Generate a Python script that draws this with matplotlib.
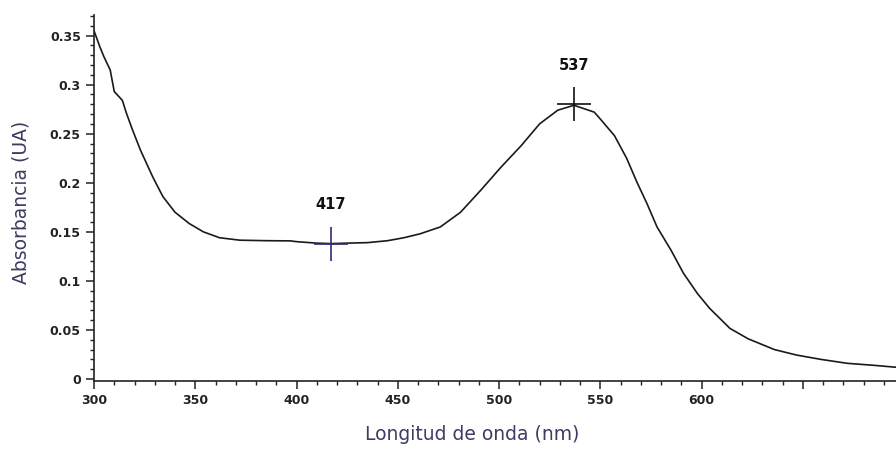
import matplotlib.pyplot as plt
from matplotlib.ticker import MultipleLocator

# spectrum
wavelength = [300, 303, 305, 308, 310, 314, 316, 319, 323, 329, 334, 340, 347, 354,
              362, 372, 385, 397, 400, 410, 417, 425, 435, 445, 453, 461, 471, 481,
              491, 501, 511, 520, 529, 537, 547, 550, 557, 563, 568, 573, 578, 585,
              591, 598, 604, 614, 623, 636, 647, 659, 672, 685, 696]
absorbance = [0.355, 0.338, 0.328, 0.315, 0.293, 0.284, 0.271, 0.254, 0.233, 0.206,
              0.186, 0.170, 0.1585, 0.150, 0.144, 0.1415, 0.141, 0.1408, 0.1400, 0.1385,
              0.138, 0.1385, 0.139, 0.141, 0.144, 0.148, 0.155, 0.170, 0.1925, 0.216,
              0.238, 0.260, 0.274, 0.279, 0.272, 0.265, 0.248, 0.225, 0.201, 0.179,
              0.155, 0.131, 0.108, 0.087, 0.072, 0.0516, 0.041, 0.030, 0.0244, 0.020,
              0.016, 0.014, 0.012]

peaks_x = [417, 537]
peaks_y = [0.138, 0.280]
peak_colors = ['#2b2b7a', '#111111']

x_ticks = [300, 350, 400, 450, 500, 550, 600, 650]
x_labels = ['300', '350', '400', '450', '500', '550', '600', '']
y_ticks = [0, 0.05, 0.1, 0.15, 0.2, 0.25, 0.3, 0.35]
y_labels = ['0', '0.05', '0.1', '0.15', '0.2', '0.25', '0.3', '0.35']

label_color = '#3c3c64'

fig = plt.figure(figsize=(8.96, 4.49), dpi=100)
ax = fig.add_axes([94/896, 68/449, 802/896, 366/449])

ax.plot(wavelength, absorbance, color='#1a1a1a', lw=1.2)

for px, py, c in zip(peaks_x, peaks_y, peak_colors):
    ax.plot([px], [py], marker='+', markersize=25, mew=1.2, color=c, ls='none')
    ax.annotate(str(px), (px, py), xytext=(0, 28), textcoords='offset points',
                ha='center', va='center', fontsize=10.5, fontweight='bold',
                color='#111111')

ax.set_xlim(300, 696)
ax.set_ylim(-0.002, 0.371)

ax.set_xticks(x_ticks, x_labels)
ax.set_yticks(y_ticks, y_labels)
ax.xaxis.set_minor_locator(MultipleLocator(10))
ax.yaxis.set_minor_locator(MultipleLocator(0.01))

ax.tick_params(which='major', length=6, width=1.1, direction='out', pad=3.5,
               labelsize=9, colors='#222222')
ax.tick_params(which='minor', length=3, width=1.0, direction='out', colors='#222222')
for lab in ax.get_xticklabels() + ax.get_yticklabels():
    lab.set_fontweight('bold')

for s in ['top', 'right']:
    ax.spines[s].set_visible(False)
for s in ['left', 'bottom']:
    ax.spines[s].set_linewidth(1.2)
    ax.spines[s].set_color('#222222')

ax.set_xlabel('Longitud de onda (nm)', fontsize=13.5, color=label_color)
ax.set_ylabel('Absorbancia (UA)', fontsize=13.5, color=label_color)
ax.xaxis.set_label_coords(0.471, -0.12)
ax.yaxis.set_label_coords(-0.079, 0.489)

fig.savefig('out.png', dpi=100)
